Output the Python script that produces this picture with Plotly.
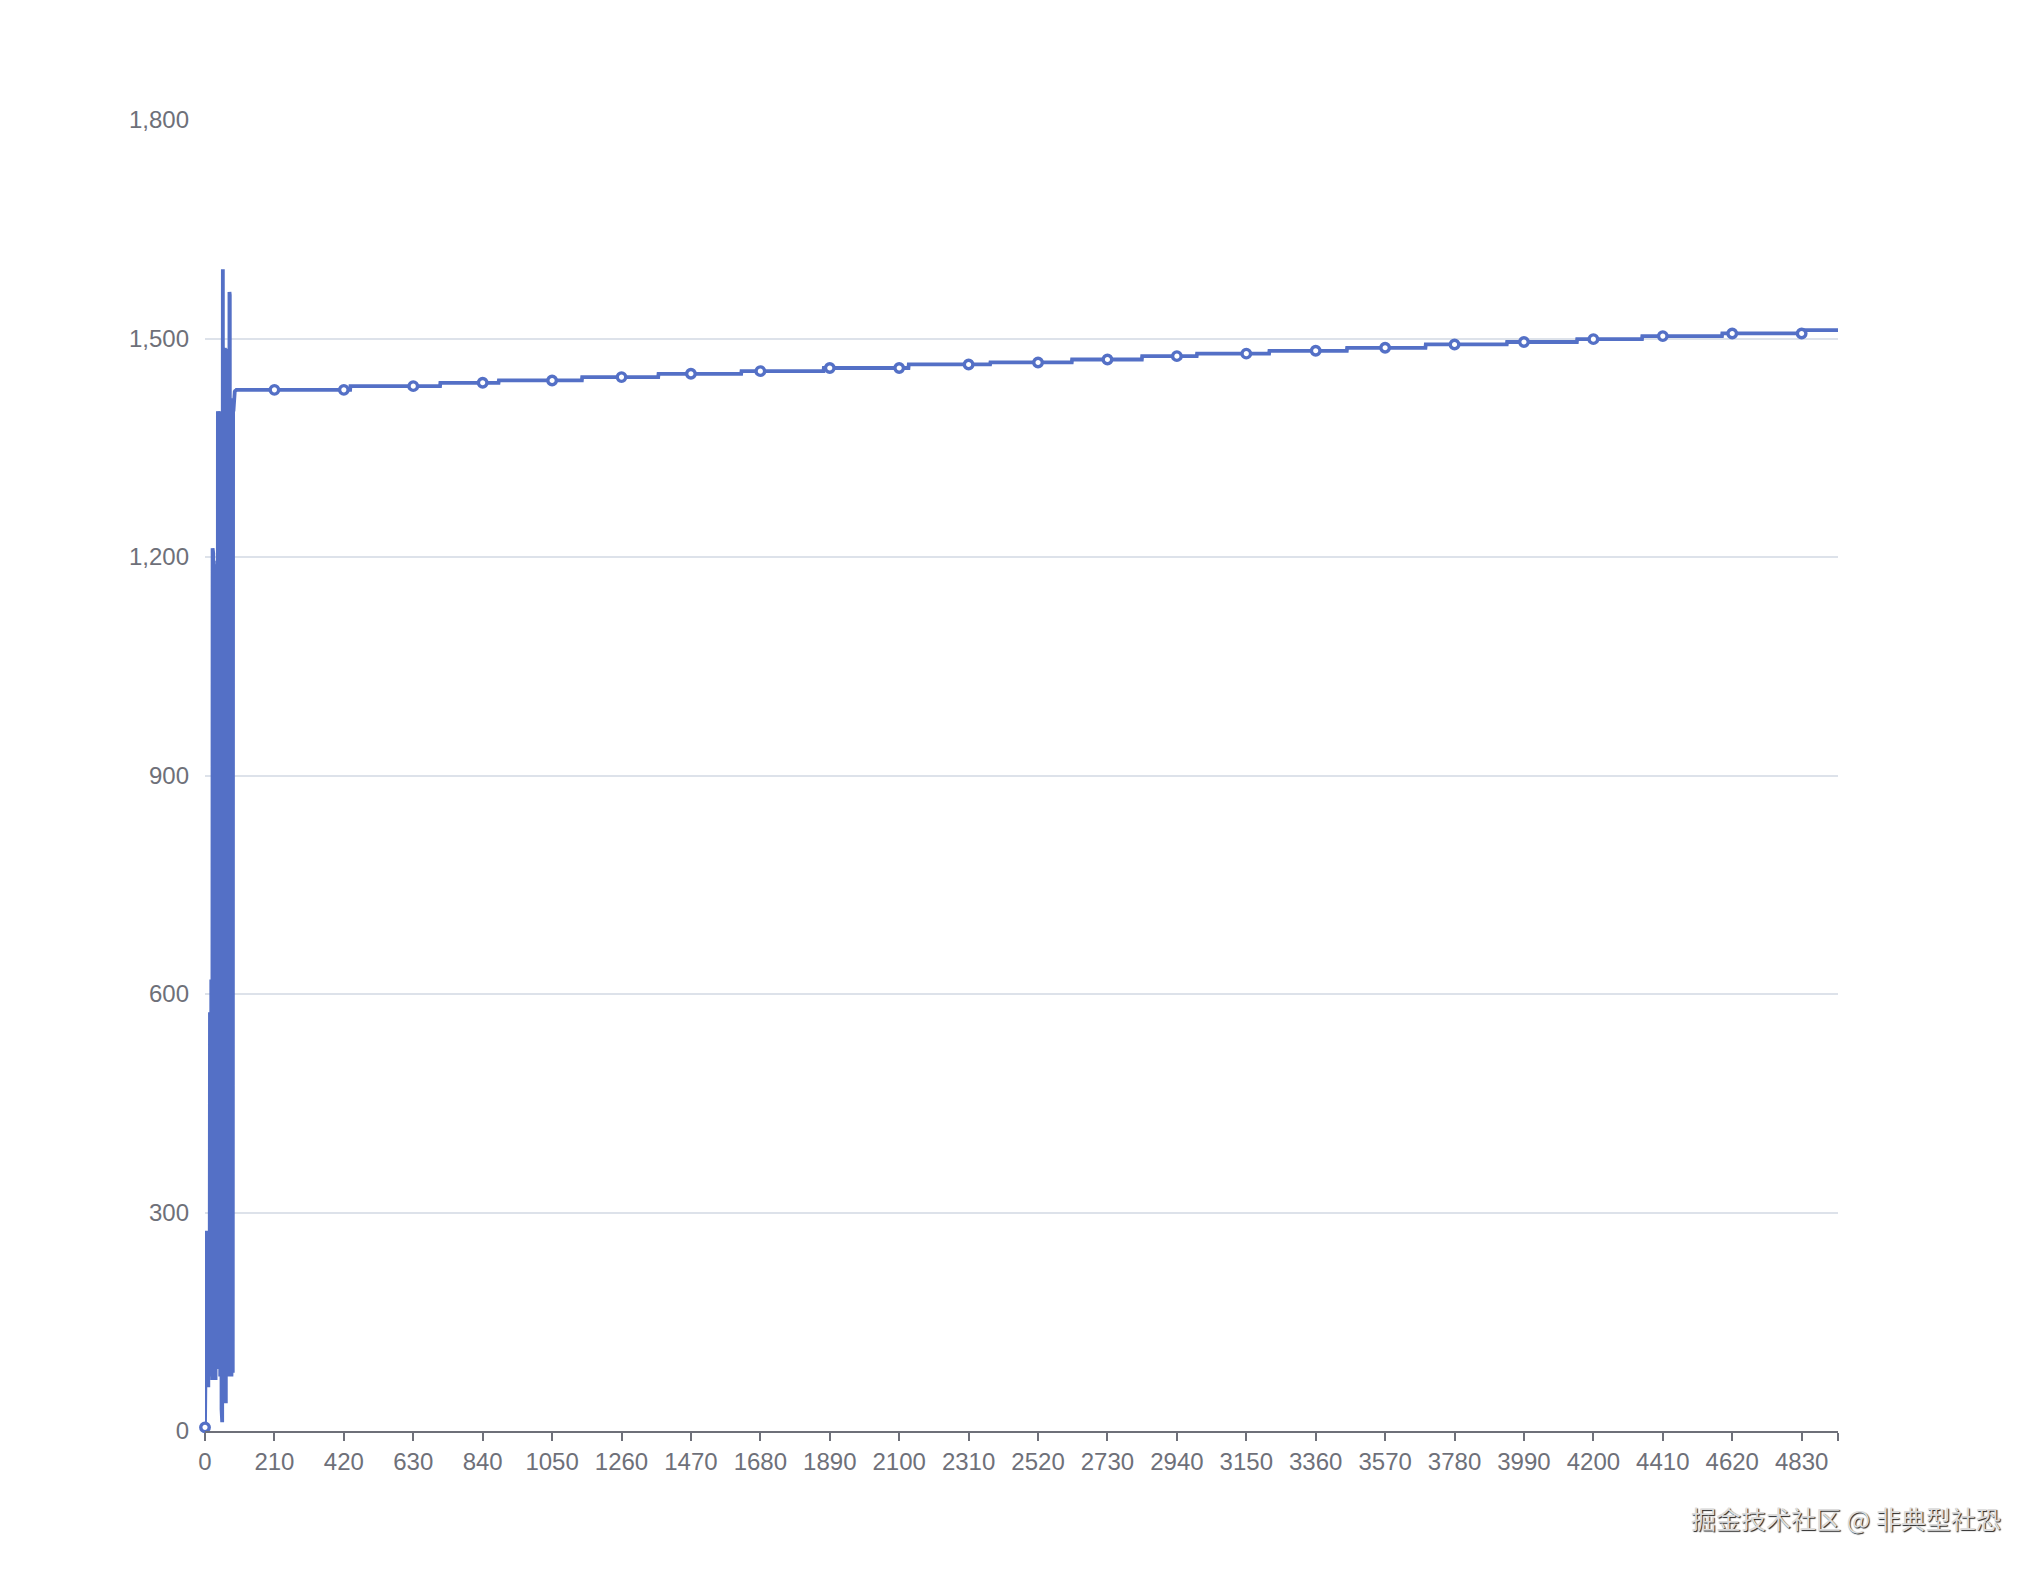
import plotly.graph_objects as go

# ---- data ----
# noisy start, index 0..94
noise_values = [
    5, 30, 110, 60, 180, 275, 70, 270, 95, 265,
    60, 272, 110, 268, 85, 575, 75, 570, 100, 620,
    90, 615, 70, 1212, 105, 1205, 80, 1185, 120, 1180,
    95, 1190, 70, 1182, 130, 1178, 100, 1195, 85, 1400,
    110, 1395, 90, 1398, 140, 1400, 75, 1396, 120, 1400,
    30, 1398, 12, 1402, 1595, 45, 1485, 100, 1480, 60,
    1487, 120, 1482, 38, 1486, 95, 1480, 130, 1484, 80,
    1478, 110, 1485, 75, 1564, 1560, 100, 1415, 140, 1418,
    75, 1412, 120, 1416, 80, 1410, 1400, 1418, 1424, 1426,
    1427, 1428, 1428, 1429, 1429,
]
# staircase part: index where each level starts, and its value
step_starts = [95, 440, 712, 889, 1141, 1372, 1623, 1872, 2129, 2376, 2623,
               2835, 3001, 3220, 3455, 3693, 3939, 4151, 4348, 4590, 4841]
step_levels = [1429.5, 1434.6, 1439.2, 1442.4, 1447, 1451.5, 1455.2, 1459.5,
               1464.4, 1467.1, 1471.2, 1475.8, 1479.2, 1483.1, 1487.2, 1491.8,
               1495.2, 1499.1, 1503.3, 1506.9, 1511.5]
last_index = 4940
x_label_interval = 210
y_ticks = [0, 300, 600, 900, 1200, 1500, 1800]
watermark = "掘金技术社区 @ 非典型社恐"

# ---- build series ----
values = list(noise_values)
for i in range(len(noise_values), last_index + 1):
    lvl = step_levels[0]
    for s, v in zip(step_starts, step_levels):
        if i >= s:
            lvl = v
    values.append(lvl)
xs = list(range(last_index + 1))

mark_x = list(range(0, last_index + 1, x_label_interval))
mark_y = [values[i] for i in mark_x]

BLUE = "#5470c6"
AXIS = "#6E7079"
FONT = "Liberation Sans, Arial, Helvetica, sans-serif"

fig = go.Figure()
fig.add_trace(go.Scatter(x=xs, y=values, mode="lines",
                         line=dict(color=BLUE, width=3.8), hoverinfo="skip",
                         showlegend=False))
fig.add_trace(go.Scatter(x=mark_x, y=mark_y, mode="markers", cliponaxis=False,
                         marker=dict(size=8.5, color="white",
                                     line=dict(color=BLUE, width=3.4)),
                         showlegend=False))

tickvals = mark_x + [last_index]
ticktext = [str(v) for v in mark_x] + [""]

# page body has an 8px margin, so the figure is offset by (8, 8)
fig.update_layout(
    width=2042, height=1572, autosize=False,
    margin=dict(l=197, r=212, t=112, b=149),
    paper_bgcolor="white", plot_bgcolor="white",
    font=dict(family=FONT, color=AXIS, size=24),
    xaxis=dict(range=[0, last_index], tickvals=tickvals, ticktext=ticktext,
               showgrid=False, zeroline=False, showline=True,
               linecolor=AXIS, linewidth=1.6, ticks="outside", ticklen=8,
               tickwidth=1.6, tickcolor=AXIS, tickfont=dict(size=24, color=AXIS),
               ticklabelstandoff=0),
    yaxis=dict(range=[0, 1800], tickvals=y_ticks, tickformat=",",
               showgrid=True, gridcolor="#dde2ea", gridwidth=1.5, zeroline=False,
               showline=False, ticks="", tickfont=dict(size=24, color=AXIS),
               ticklabelstandoff=15),
    annotations=[dict(text=watermark, xref="paper", yref="paper",
                      x=(2003 - 205) / 1633, y=(1431 - 1518) / 1311,
                      xanchor="right", yanchor="middle", showarrow=False,
                      font=dict(family="Noto Sans CJK SC", size=25,
                                color="#dcdcdc",
                                shadow="1px 1px 1px #222"))],
)

fig.write_html("out.html")
